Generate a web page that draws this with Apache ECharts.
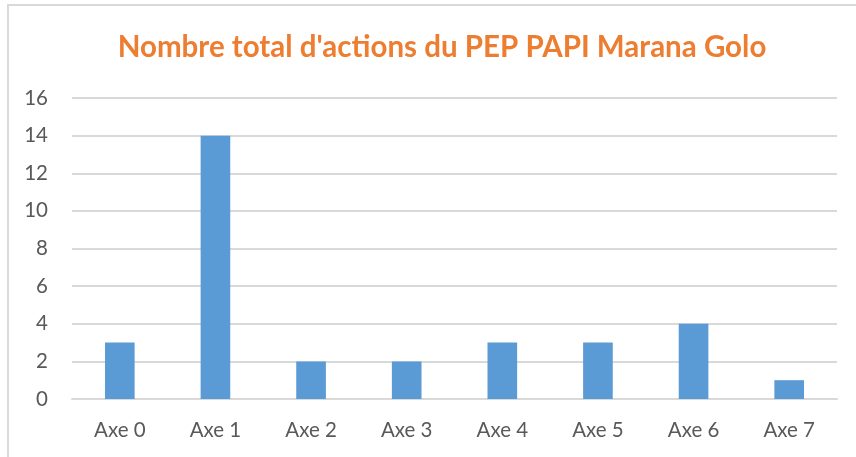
<!DOCTYPE html>
<html>
<head>
<meta charset="utf-8">
<script src="https://cdn.jsdelivr.net/npm/echarts@6/dist/echarts.min.js"></script>
<style>
  html, body { margin: 0; padding: 0; background: #fff; }
  #frame { position: absolute; left: 7px; top: 4px; width: 900px; height: 500px;
           border-left: 2px solid #d9d9d9; border-top: 2px solid #d9d9d9; }
  #chart { position: absolute; left: 0; top: 0; width: 856px; height: 457px; }
</style>
</head>
<body>
<div id="frame"></div>
<div id="chart"></div>
<script>
var titleText = "Nombre total d'actions du PEP PAPI Marana Golo";
var categories = ['Axe 0', 'Axe 1', 'Axe 2', 'Axe 3', 'Axe 4', 'Axe 5', 'Axe 6', 'Axe 7'];
var actions = [3, 14, 2, 2, 3, 3, 4, 1];

var chart = echarts.init(document.getElementById('chart'), null, { renderer: 'canvas' });
var option = {
    animation: false,
    title: {
        text: titleText,
        left: 437,
        top: 27,
        textAlign: 'center',
        textStyle: {
            color: '#ED7D31',
            fontFamily: 'Lato',
            fontWeight: 'bold',
            fontSize: 29.5
        }
    },
    grid: {
        left: 72,
        right: 19,
        top: 98,
        bottom: 58,
        containLabel: false
    },
    xAxis: {
        type: 'category',
        data: categories,
        axisLine: { show: true, lineStyle: { color: '#d9d9d9', width: 2 } },
        axisTick: { show: false },
        axisLabel: {
            color: '#595959',
            fontFamily: 'Lato',
            fontSize: 20.5,
            margin: 21
        }
    },
    yAxis: {
        type: 'value',
        min: 0,
        max: 16,
        interval: 2,
        axisLine: { show: false },
        axisTick: { show: false },
        axisLabel: {
            color: '#595959',
            fontFamily: 'Lato',
            fontSize: 20.5,
            margin: 24
        },
        splitLine: { lineStyle: { color: '#d9d9d9', width: 2 } }
    },
    series: [{
        type: 'bar',
        data: actions,
        barWidth: '31%',
        itemStyle: { color: '#5B9BD5' }
    }]
};
chart.setOption(option);
</script>
</body>
</html>
